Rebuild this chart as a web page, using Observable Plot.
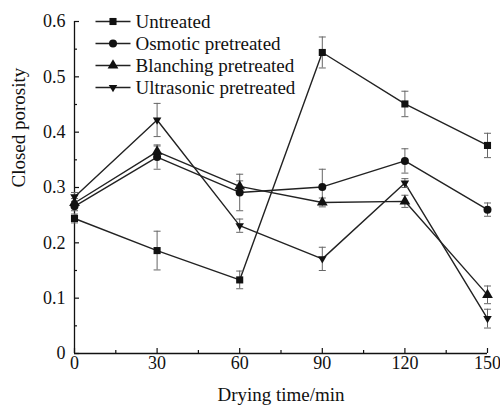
<!DOCTYPE html>
<html>
<head>
<meta charset="utf-8">
<script src="https://cdn.jsdelivr.net/npm/d3@7"></script>
<script src="https://cdn.jsdelivr.net/npm/@observablehq/plot@0.6"></script>
<style>
  html, body { margin: 0; padding: 0; background: #fff; }
  #chart { width: 500px; height: 409px; }
</style>
</head>
<body>
<div id="chart"></div>
<script>
const times = [0, 30, 60, 90, 120, 150];
const seriesNames = ["Untreated", "Osmotic pretreated", "Blanching pretreated", "Ultrasonic pretreated"];
const untreated = [0.244, 0.186, 0.133, 0.544, 0.451, 0.376];
const untreatedErr = [0.008, 0.035, 0.016, 0.028, 0.023, 0.022];
const osmotic = [0.266, 0.355, 0.291, 0.301, 0.348, 0.260];
const osmoticErr = [0.008, 0.022, 0.033, 0.032, 0.022, 0.012];
const blanching = [0.272, 0.365, 0.302, 0.273, 0.275, 0.106];
const blanchingErr = [0.008, 0.010, 0.010, 0.008, 0.011, 0.016];
const ultrasonic = [0.283, 0.422, 0.231, 0.171, 0.308, 0.063];
const ultrasonicErr = [0.008, 0.030, 0.012, 0.021, 0.008, 0.017];
const xTicks = [0, 30, 60, 90, 120, 150];
const xMinor = [15, 45, 75, 105, 135];
const yTicks = [0, 0.1, 0.2, 0.3, 0.4, 0.5, 0.6];
const yMinor = [0.05, 0.15, 0.25, 0.35, 0.45, 0.55];

const invTriangle = {
  draw(ctx, size) {
    const a = Math.sqrt(size) * 0.6;
    ctx.moveTo(0, a * 1.1);
    ctx.lineTo(-a, -a * 0.6);
    ctx.lineTo(a, -a * 0.6);
    ctx.closePath();
  }
};
const capSymbol = { draw(ctx) { ctx.moveTo(-3.5, 0); ctx.lineTo(3.5, 0); } };
const legendLine = { draw(ctx) { ctx.moveTo(-17.5, 0); ctx.lineTo(17.5, 0); } };
const symbols = ["square", "circle", "triangle", invTriangle];
const values = [untreated, osmotic, blanching, ultrasonic];
const errs = [untreatedErr, osmoticErr, blanchingErr, ultrasonicErr];

const data = [];
seriesNames.forEach((name, i) => {
  times.forEach((t, j) => data.push({series: name, idx: i, t, v: values[i][j], e: errs[i][j]}));
});

const W = 500, H = 409, mL = 74, mR = 13, mT = 21, mB = 56;
const plotH = H - mT - mB, plotW = W - mL - mR;
const font = "'Liberation Serif', 'Times New Roman', serif";

const marks = [
  Plot.ruleX([0], {stroke: "#111", strokeWidth: 1.3}),
  Plot.ruleY([0], {stroke: "#111", strokeWidth: 1.3}),
  Plot.ruleX(xTicks, {x: d => d, insetTop: plotH - 5, stroke: "#111", strokeWidth: 1.2}),
  Plot.ruleX(xMinor, {x: d => d, insetTop: plotH - 3, stroke: "#111", strokeWidth: 1.2}),
  Plot.ruleY(yTicks, {y: d => d, insetRight: plotW - 5, stroke: "#111", strokeWidth: 1.2}),
  Plot.ruleY(yMinor, {y: d => d, insetRight: plotW - 3, stroke: "#111", strokeWidth: 1.2}),
  Plot.axisX(xTicks, {tickSize: 0, tickPadding: 3, fontSize: 18, fontFamily: font, fill: "#111", label: null}),
  Plot.axisY(yTicks, {tickSize: 0, tickPadding: 9, fontSize: 18, fontFamily: font, fill: "#111", label: null,
    tickFormat: d => d === 0 ? "0" : d3.format(".1f")(d)}),
  Plot.text(["Drying time/min"], {frameAnchor: "bottom", dy: 47, fontSize: 19, fontFamily: font, fill: "#111"}),
  Plot.text(["Closed porosity"], {frameAnchor: "left", dx: -56, rotate: -90, fontSize: 19, fontFamily: font, fill: "#111"}),
  Plot.line(data, {x: "t", y: "v", z: "series", stroke: "#222", strokeWidth: 1.4}),
  Plot.ruleX(data, {x: "t", y1: d => d.v - d.e, y2: d => d.v + d.e, stroke: "#666", strokeWidth: 1}),
  Plot.dot(data, {x: "t", y: d => d.v + d.e, symbol: capSymbol, stroke: "#666", strokeWidth: 1, fill: "none"}),
  Plot.dot(data, {x: "t", y: d => d.v - d.e, symbol: capSymbol, stroke: "#666", strokeWidth: 1, fill: "none"}),
];
seriesNames.forEach((name, i) => {
  marks.push(Plot.dot(data.filter(d => d.idx === i), {x: "t", y: "v", symbol: symbols[i], r: 4, fill: "#111", stroke: "none"}));
});
const legendRows = [0, 22, 44, 66];
seriesNames.forEach((name, i) => {
  marks.push(Plot.dot([name], {frameAnchor: "top-left", dx: 38.5, dy: legendRows[i], symbol: legendLine, stroke: "#222", strokeWidth: 1.4, fill: "none"}));
  marks.push(Plot.dot([name], {frameAnchor: "top-left", dx: 38.5, dy: legendRows[i], symbol: symbols[i], r: 4, fill: "#111", stroke: "none"}));
  marks.push(Plot.text([name], {frameAnchor: "top-left", dx: 61, dy: legendRows[i], text: d => d, textAnchor: "start", lineAnchor: "middle", fontSize: 19, fontFamily: font, fill: "#111"}));
});

const chart = Plot.plot({
  width: W, height: H,
  marginLeft: mL, marginRight: mR, marginTop: mT, marginBottom: mB,
  x: {domain: [0, 150], axis: null},
  y: {domain: [0, 0.6], axis: null},
  style: {background: "#fff", fontFamily: font},
  marks
});
document.getElementById("chart").appendChild(chart);
</script>
</body>
</html>
